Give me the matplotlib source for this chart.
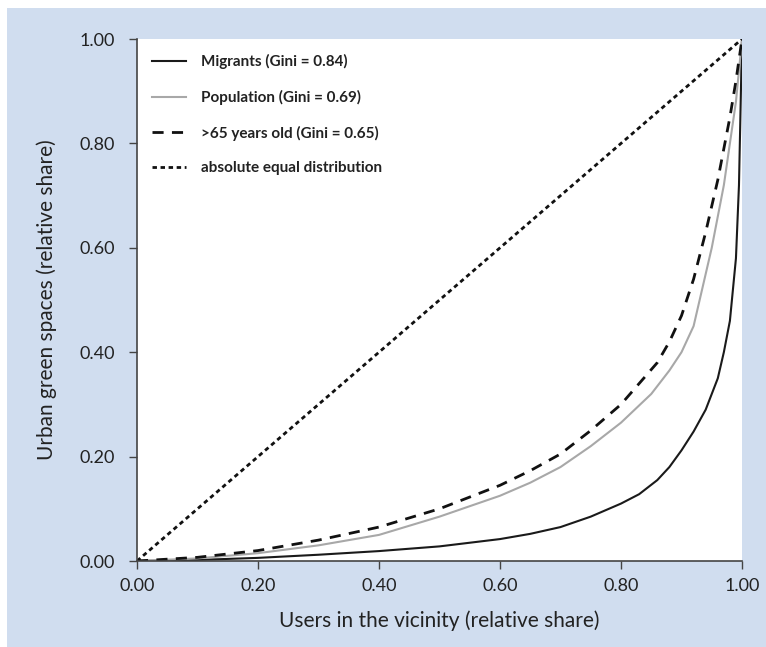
import numpy as np
import matplotlib.pyplot as plt
from matplotlib.patches import Rectangle

# Lorenz curves
mig_users = [0, 0.1, 0.2, 0.3, 0.4, 0.5, 0.6, 0.65, 0.7, 0.75, 0.8, 0.83, 0.86, 0.88, 0.9, 0.92,
             0.94, 0.96, 0.97, 0.98, 0.99, 0.995, 1.0]
migrants = [0, 0.002, 0.006, 0.012, 0.019, 0.028, 0.042, 0.052, 0.065, 0.085, 0.11, 0.128, 0.155, 0.18,
            0.212, 0.248, 0.29, 0.35, 0.40, 0.46, 0.58, 0.72, 1.0]

pop_users = [0, 0.1, 0.2, 0.3, 0.4, 0.5, 0.6, 0.65, 0.7, 0.75, 0.8, 0.85, 0.88, 0.9, 0.92, 0.93,
             0.95, 0.97, 0.98, 0.99, 1.0]
population = [0, 0.005, 0.015, 0.03, 0.05, 0.085, 0.125, 0.15, 0.18, 0.22, 0.265, 0.32, 0.365, 0.40,
              0.45, 0.5, 0.6, 0.72, 0.8, 0.88, 1.0]

old_users = [0, 0.1, 0.2, 0.3, 0.4, 0.5, 0.6, 0.65, 0.7, 0.75, 0.8, 0.83, 0.86, 0.88, 0.9, 0.92,
             0.94, 0.96, 0.98, 0.99, 1.0]
over65 = [0, 0.007, 0.02, 0.04, 0.065, 0.1, 0.145, 0.173, 0.205, 0.25, 0.3, 0.34, 0.38, 0.42, 0.47,
          0.54, 0.63, 0.73, 0.85, 0.92, 1.0]

equal = [0, 1]

ticks = [0, 0.2, 0.4, 0.6, 0.8, 1.0]
tick_labels = ['0.00', '0.20', '0.40', '0.60', '0.80', '1.00']

plt.rcParams['font.family'] = ['Lato', 'DejaVu Sans']

fig = plt.figure(figsize=(7.66, 6.47), dpi=100, facecolor='white')
fig.patches.append(Rectangle((7 / 766, 0), 1, 1 - 8 / 647, transform=fig.transFigure,
                             facecolor='#d0ddef', edgecolor='none', zorder=-10))

ax = fig.add_axes([137 / 766, 1 - 561 / 647, 605 / 766, 522 / 647])
ax.set_facecolor('white')

ax.plot(mig_users, migrants, color='#1a1a1a', lw=1.5, label='Migrants (Gini = 0.84)')
ax.plot(pop_users, population, color='#a8a8a8', lw=1.5, label='Population (Gini = 0.69)')
ax.plot(old_users, over65, color='#111111', lw=2, linestyle=(0, (4, 3)), label='>65 years old (Gini = 0.65)')
ax.plot(equal, equal, color='#111111', lw=2, linestyle=(0, (1.6, 1.3)), label='absolute equal distribution')

ax.set_xlim(0, 1)
ax.set_ylim(0, 1)
ax.set_xticks(ticks)
ax.set_xticklabels(tick_labels)
ax.set_yticks(ticks)
ax.set_yticklabels(tick_labels)
ax.tick_params(direction='out', length=6, width=1, color='#444444', labelsize=13,
               labelcolor='#222222', pad=6)
ax.tick_params(axis='y', pad=10)

for side in ['top', 'right']:
    ax.spines[side].set_visible(False)
for side in ['left', 'bottom']:
    ax.spines[side].set_color('#444444')
    ax.spines[side].set_linewidth(1.2)

ax.set_xlabel('Users in the vicinity (relative share)', fontsize=15, color='#222222', labelpad=12)
ax.set_ylabel('Urban green spaces (relative share)', fontsize=15, color='#222222', labelpad=16)

leg = ax.legend(loc='upper left', frameon=False, handlelength=2.2, handletextpad=1.0,
                labelspacing=1.35, borderaxespad=0.6, prop={'weight': 'bold', 'size': 11})
for t in leg.get_texts():
    t.set_color('#222222')

fig.savefig('out.png', dpi=100, facecolor=fig.get_facecolor())
